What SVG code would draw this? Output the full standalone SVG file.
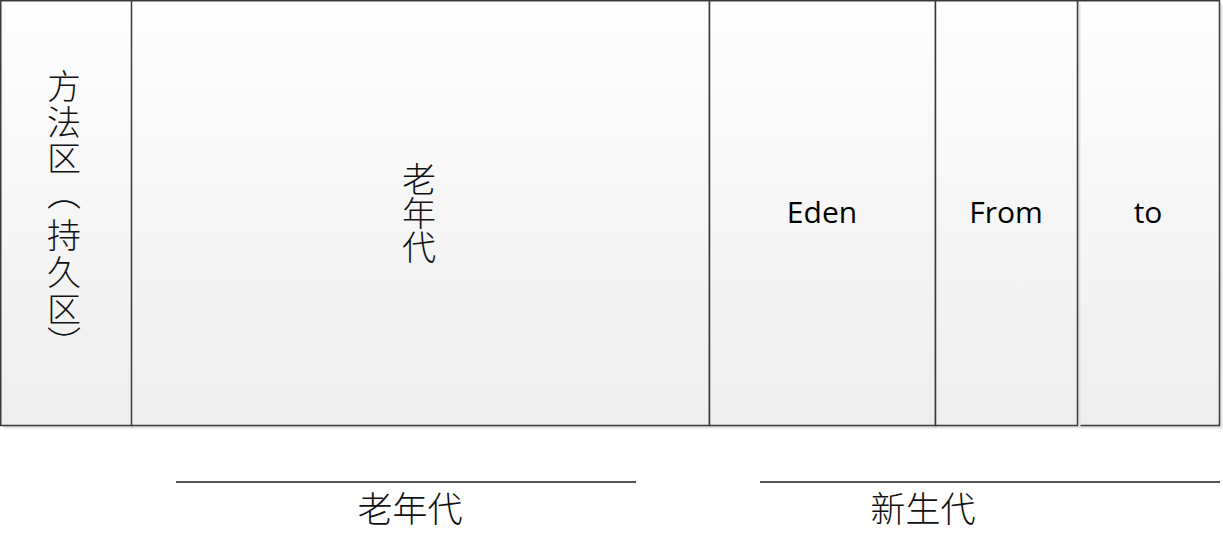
<svg xmlns="http://www.w3.org/2000/svg" width="1223" height="534" viewBox="0 0 1223 534">
<defs>
<linearGradient id="g" x1="0" y1="0" x2="0" y2="1">
<stop offset="0" stop-color="#fefefe"/>
<stop offset="1" stop-color="#eeeeee"/>
</linearGradient>
<style>
.box{fill:url(#g);stroke:#3a3a3a;stroke-width:1.5}
.sh{fill:#e2e2e2}
.cjk{font-family:"Noto Sans CJK SC","Noto Sans CJK JP",sans-serif;fill:#111;font-weight:300}
.lat{font-family:"Open Sans","Noto Sans",sans-serif;fill:#000;font-size:30px}
.v{writing-mode:vertical-rl;text-anchor:middle}
.ln{stroke:#555;stroke-width:2}
</style>
</defs>
<g id="n5">
<rect class="sh" x="1080.5" y="3.5" width="142" height="425"/>
<rect class="box" x="1077.5" y="0.75" width="142" height="424.75"/>
<text class="lat" x="1148" y="223" text-anchor="middle">to</text>
</g>
<g id="n1">
<rect class="sh" x="3.5" y="3.5" width="131" height="425"/>
<rect class="box" x="0.75" y="0.75" width="131" height="424.75"/>
<text class="cjk v" font-size="34"><tspan x="64" y="86">方</tspan><tspan x="64" y="122">法</tspan><tspan x="64" y="158">区</tspan><tspan x="64" y="193">（</tspan><tspan x="64" y="235">持</tspan><tspan x="64" y="272">久</tspan><tspan x="64" y="309">区</tspan><tspan x="64" y="343">）</tspan></text>
</g>
<g id="n2">
<rect class="sh" x="134.5" y="3.5" width="578" height="425"/>
<rect class="box" x="131.5" y="0.75" width="578" height="424.75"/>
<text class="cjk v" x="419" y="213" font-size="34">老年代</text>
</g>
<g id="n3">
<rect class="sh" x="712.5" y="3.5" width="226" height="425"/>
<rect class="box" x="709.5" y="0.75" width="226" height="424.75"/>
<text class="lat" x="822" y="223" text-anchor="middle">Eden</text>
</g>
<g id="n4">
<rect class="sh" x="938.5" y="3.5" width="142" height="425"/>
<rect class="box" x="935.5" y="0.75" width="142" height="424.75"/>
<text class="lat" x="1006" y="223" text-anchor="middle">From</text>
</g>
<g id="connectors">
<line class="ln" x1="176" y1="482" x2="636" y2="482"/>
<line class="ln" x1="760" y1="482" x2="1220" y2="482"/>
</g>
<g id="labels">
<text class="cjk" x="410" y="522" font-size="35" text-anchor="middle">老年代</text>
<text class="cjk" x="923" y="522" font-size="35" text-anchor="middle">新生代</text>
</g>
</svg>
